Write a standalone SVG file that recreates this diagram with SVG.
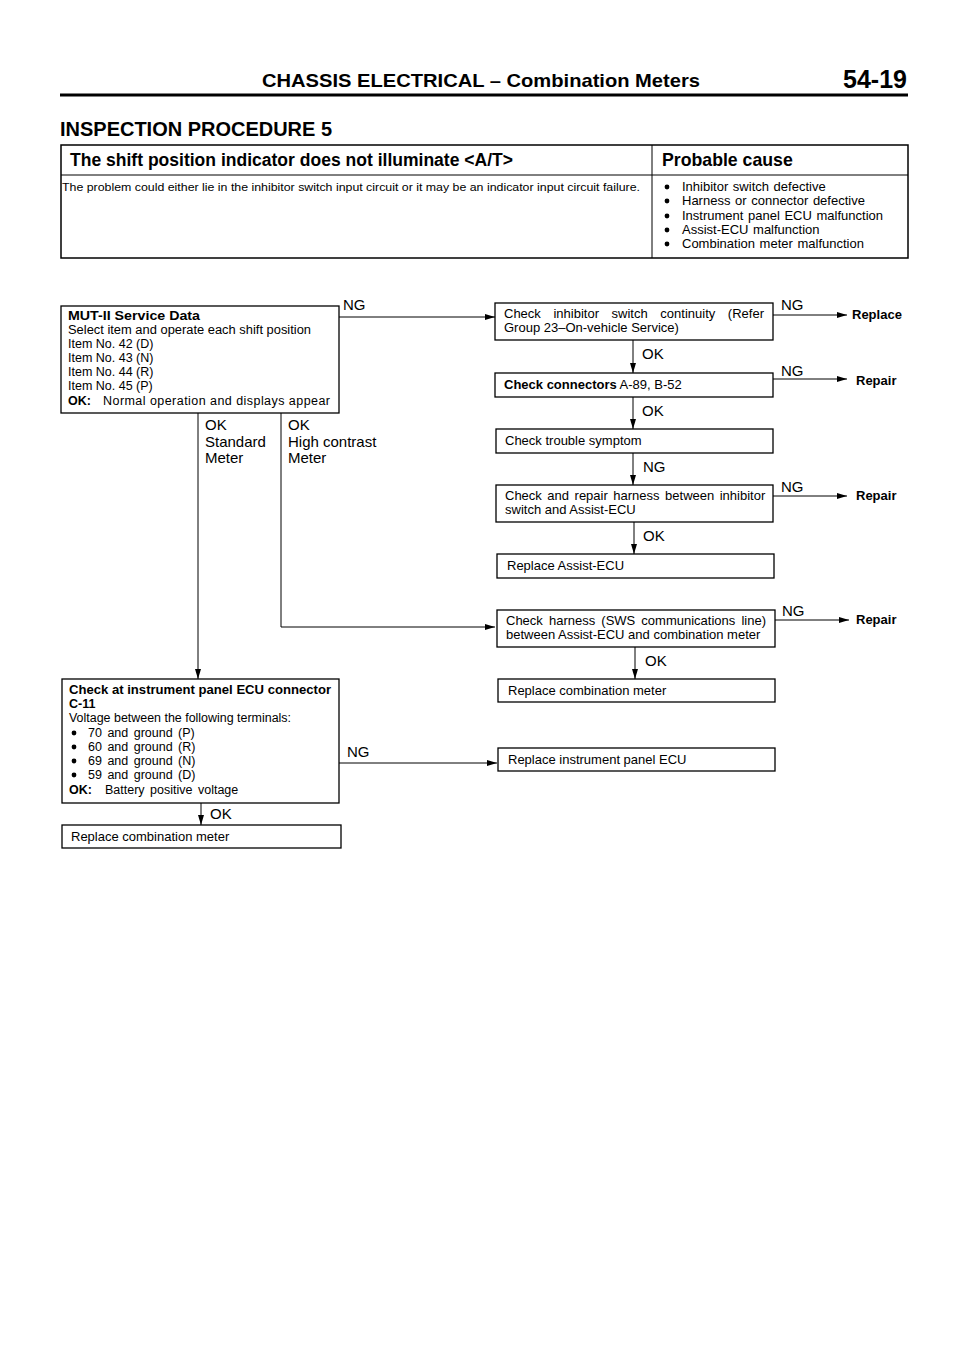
<svg xmlns="http://www.w3.org/2000/svg" width="960" height="1358" viewBox="0 0 960 1358">
<style>
text{font-family:"Liberation Sans",Arial,sans-serif;fill:#000}
.t{font-size:13px}
.s{font-size:12.5px}
.b{font-weight:bold}
.box{fill:#fff;stroke:#000;stroke-width:1.3}
.ln{fill:none;stroke:#000;stroke-width:1}
.lbl{font-size:15px}
</style>
<defs>
<marker id="ah" markerWidth="10" markerHeight="6" refX="10" refY="3" orient="auto" markerUnits="userSpaceOnUse">
<path d="M0,0 L10,3 L0,6 Z" fill="#000"/>
</marker>
</defs>
<rect width="960" height="1358" fill="#fff"/>
<g id="header">
<text x="262" y="87" font-size="19" class="b" textLength="438" lengthAdjust="spacingAndGlyphs">CHASSIS ELECTRICAL – Combination Meters</text>
<text x="907" y="88" font-size="25" class="b" text-anchor="end">54-19</text>
<line x1="60" y1="95" x2="908" y2="95" stroke="#000" stroke-width="3"/>
<text x="60" y="136" font-size="21" class="b" textLength="272" lengthAdjust="spacingAndGlyphs">INSPECTION PROCEDURE 5</text>
</g>
<g id="table">
<rect x="61" y="145" width="847" height="113" fill="none" stroke="#000" stroke-width="1.5"/>
<line x1="61" y1="175" x2="908" y2="175" stroke="#000" stroke-width="1"/>
<line x1="652" y1="145" x2="652" y2="258" stroke="#000" stroke-width="1"/>
<text x="70" y="166" font-size="17.5" class="b" textLength="443" lengthAdjust="spacingAndGlyphs">The shift position indicator does not illuminate &lt;A/T&gt;</text>
<text x="662" y="166" font-size="17.7" class="b">Probable cause</text>
<text x="62" y="191" font-size="11.5" textLength="578" lengthAdjust="spacingAndGlyphs">The problem could either lie in the inhibitor switch input circuit or it may be an indicator input circuit failure.</text>
<g font-size="13" word-spacing="1">
<circle cx="667" cy="187" r="2.4"/><text x="682" y="191">Inhibitor switch defective</text>
<circle cx="667" cy="201" r="2.4"/><text x="682" y="205">Harness or connector defective</text>
<circle cx="667" cy="216" r="2.4"/><text x="682" y="220">Instrument panel ECU malfunction</text>
<circle cx="667" cy="230" r="2.4"/><text x="682" y="234">Assist-ECU malfunction</text>
<circle cx="667" cy="244" r="2.4"/><text x="682" y="248">Combination meter malfunction</text>
</g>
</g>
<g id="connectors">
<line class="ln" x1="339" y1="317" x2="495" y2="317" marker-end="url(#ah)"/>
<line class="ln" x1="773" y1="315" x2="847" y2="315" marker-end="url(#ah)"/>
<line class="ln" x1="773" y1="379" x2="847" y2="379" marker-end="url(#ah)"/>
<line class="ln" x1="773" y1="496" x2="847" y2="496" marker-end="url(#ah)"/>
<line class="ln" x1="775" y1="620" x2="849" y2="620" marker-end="url(#ah)"/>
<line class="ln" x1="633" y1="340" x2="633" y2="373" marker-end="url(#ah)"/>
<line class="ln" x1="633" y1="397" x2="633" y2="429" marker-end="url(#ah)"/>
<line class="ln" x1="633" y1="453" x2="633" y2="485" marker-end="url(#ah)"/>
<line class="ln" x1="634" y1="522" x2="634" y2="554" marker-end="url(#ah)"/>
<line class="ln" x1="635" y1="647" x2="635" y2="679" marker-end="url(#ah)"/>
<line class="ln" x1="198" y1="413" x2="198" y2="679" marker-end="url(#ah)"/>
<polyline class="ln" points="281,413 281,627 495,627" marker-end="url(#ah)"/>
<line class="ln" x1="339" y1="763" x2="497" y2="763" marker-end="url(#ah)"/>
<line class="ln" x1="201" y1="803" x2="201" y2="825" marker-end="url(#ah)"/>
<g class="lbl">
<text x="343" y="310">NG</text>
<text x="781" y="310">NG</text>
<text x="781" y="376">NG</text>
<text x="781" y="492">NG</text>
<text x="782" y="616">NG</text>
<text x="347" y="757">NG</text>
<text x="642" y="359">OK</text>
<text x="642" y="416">OK</text>
<text x="643" y="472">NG</text>
<text x="643" y="541">OK</text>
<text x="645" y="666">OK</text>
<text x="210" y="819">OK</text>
<text x="205" y="430">OK</text>
<text x="205" y="447">Standard</text>
<text x="205" y="463">Meter</text>
<text x="288" y="430">OK</text>
<text x="288" y="447">High contrast</text>
<text x="288" y="463">Meter</text>
</g>
<g class="t b">
<text x="852" y="319">Replace</text>
<text x="856" y="385">Repair</text>
<text x="856" y="500">Repair</text>
<text x="856" y="624">Repair</text>
</g>
</g>
<g id="n-mut">
<rect class="box" x="61" y="306" width="278" height="107"/>
<text class="s b" x="68" y="320" textLength="132" lengthAdjust="spacingAndGlyphs">MUT-II Service Data</text>
<text class="s" x="68" y="334" textLength="243" lengthAdjust="spacingAndGlyphs">Select item and operate each shift position</text>
<text class="s" x="68" y="348">Item No. 42 (D)</text>
<text class="s" x="68" y="362">Item No. 43 (N)</text>
<text class="s" x="68" y="376">Item No. 44 (R)</text>
<text class="s" x="68" y="390">Item No. 45 (P)</text>
<text class="s b" x="68" y="405">OK:</text>
<text class="s" x="103" y="405" textLength="227" lengthAdjust="spacing">Normal operation and displays appear</text>
</g>
<g id="n-inhibitor">
<rect class="box" x="495" y="303" width="278" height="37"/>
<text class="t" x="504" y="318" word-spacing="9">Check inhibitor switch continuity (Refer</text>
<text class="t" x="504" y="332">Group 23–On-vehicle Service)</text>
</g>
<g id="n-connectors">
<rect class="box" x="495" y="373" width="278" height="24"/>
<text class="t" x="504" y="389"><tspan class="b">Check connectors</tspan> A-89, B-52</text>
</g>
<g id="n-symptom">
<rect class="box" x="496" y="429" width="277" height="24"/>
<text class="t" x="505" y="445">Check trouble symptom</text>
</g>
<g id="n-harness">
<rect class="box" x="496" y="485" width="277" height="37"/>
<text class="t" x="505" y="500" word-spacing="1.9">Check and repair harness between inhibitor</text>
<text class="t" x="505" y="514">switch and Assist-ECU</text>
</g>
<g id="n-replace-assist">
<rect class="box" x="497" y="554" width="277" height="24"/>
<text class="t" x="507" y="570">Replace Assist-ECU</text>
</g>
<g id="n-sws">
<rect class="box" x="497" y="610" width="278" height="37"/>
<text class="t" x="506" y="625" word-spacing="2.5">Check harness (SWS communications line)</text>
<text class="t" x="506" y="639">between Assist-ECU and combination meter</text>
</g>
<g id="n-replace-meter-r">
<rect class="box" x="498" y="679" width="277" height="23"/>
<text class="t" x="508" y="695">Replace combination meter</text>
</g>
<g id="n-replace-ecu">
<rect class="box" x="498" y="748" width="277" height="23"/>
<text class="t" x="508" y="764">Replace instrument panel ECU</text>
</g>
<g id="n-check-ecu">
<rect class="box" x="62" y="679" width="277" height="124"/>
<text class="s b" x="69" y="694" textLength="262" lengthAdjust="spacingAndGlyphs">Check at instrument panel ECU connector</text>
<text class="s b" x="69" y="708">C-11</text>
<text class="s" x="69" y="722" textLength="222" lengthAdjust="spacingAndGlyphs">Voltage between the following terminals:</text>
<g class="s" word-spacing="2">
<circle cx="74" cy="733" r="2.4"/><text x="88" y="737">70 and ground (P)</text>
<circle cx="74" cy="747" r="2.4"/><text x="88" y="751">60 and ground (R)</text>
<circle cx="74" cy="761" r="2.4"/><text x="88" y="765">69 and ground (N)</text>
<circle cx="74" cy="775" r="2.4"/><text x="88" y="779">59 and ground (D)</text>
</g>
<text class="s b" x="69" y="794">OK:</text>
<text class="s" x="105" y="794" word-spacing="2">Battery positive voltage</text>
</g>
<g id="n-replace-meter-l">
<rect class="box" x="62" y="825" width="279" height="23"/>
<text class="t" x="71" y="841">Replace combination meter</text>
</g>
</svg>
